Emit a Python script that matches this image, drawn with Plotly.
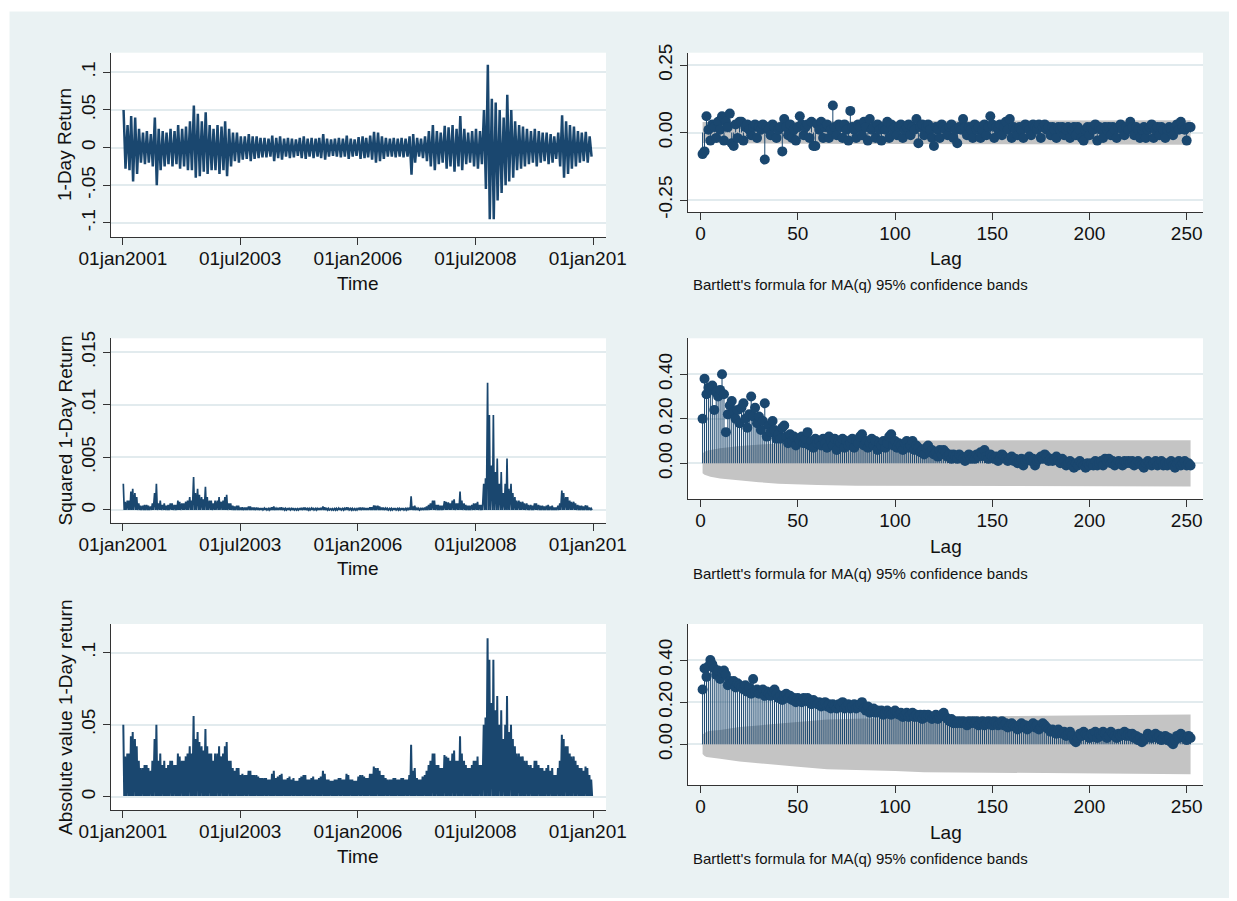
import plotly.graph_objects as go
import pandas as pd

# the page body adds an 8px margin, so the figure is laid out in screen pixels minus 8
OFF = 8
W, H = 1229, 893

# ---------------- data ----------------
# monthly envelope (max / min) of the daily 1-day return, Jan 2001 .. Dec 2010
month_start = "2001-01-01"
ret_hi = [
    0.050, 0.030, 0.042, 0.040, 0.025, 0.020, 0.022, 0.018, 0.040, 0.025, 0.022, 0.020,
    0.025, 0.022, 0.030, 0.025, 0.028, 0.035, 0.056, 0.045, 0.035, 0.047, 0.030, 0.025,
    0.030, 0.028, 0.035, 0.025, 0.020, 0.020, 0.015, 0.015, 0.018, 0.015, 0.015, 0.013,
    0.013, 0.012, 0.016, 0.013, 0.015, 0.012, 0.013, 0.012, 0.011, 0.013, 0.015, 0.012,
    0.013, 0.012, 0.013, 0.018, 0.012, 0.011, 0.012, 0.013, 0.012, 0.016, 0.012, 0.011,
    0.014, 0.015, 0.013, 0.016, 0.021, 0.020, 0.015, 0.013, 0.012, 0.013, 0.012, 0.013,
    0.012, 0.015, 0.018, 0.013, 0.012, 0.015, 0.022, 0.030, 0.022, 0.020, 0.029, 0.027,
    0.030, 0.025, 0.042, 0.025, 0.020, 0.022, 0.025, 0.022, 0.050, 0.110, 0.065, 0.060,
    0.050, 0.040, 0.070, 0.050, 0.035, 0.030, 0.028, 0.025, 0.022, 0.025, 0.022, 0.020,
    0.020, 0.018, 0.015, 0.020, 0.043, 0.035, 0.030, 0.028, 0.022, 0.020, 0.021, 0.015,
]
ret_lo = [
    -0.028, -0.030, -0.045, -0.035, -0.020, -0.022, -0.020, -0.025, -0.050, -0.030, -0.025, -0.022,
    -0.025, -0.022, -0.028, -0.025, -0.030, -0.030, -0.040, -0.038, -0.032, -0.035, -0.030, -0.030,
    -0.035, -0.030, -0.038, -0.025, -0.018, -0.020, -0.016, -0.015, -0.018, -0.015, -0.014, -0.013,
    -0.013, -0.012, -0.018, -0.014, -0.016, -0.012, -0.014, -0.013, -0.011, -0.014, -0.015, -0.012,
    -0.014, -0.012, -0.014, -0.016, -0.012, -0.011, -0.012, -0.013, -0.012, -0.015, -0.012, -0.011,
    -0.015, -0.014, -0.013, -0.016, -0.020, -0.018, -0.015, -0.012, -0.012, -0.013, -0.012, -0.013,
    -0.012, -0.036, -0.020, -0.012, -0.014, -0.018, -0.025, -0.030, -0.022, -0.020, -0.028, -0.025,
    -0.032, -0.025, -0.030, -0.022, -0.020, -0.025, -0.028, -0.022, -0.055, -0.095, -0.095, -0.070,
    -0.060, -0.050, -0.045, -0.040, -0.030, -0.028, -0.025, -0.022, -0.020, -0.025, -0.020, -0.018,
    -0.022, -0.020, -0.015, -0.025, -0.040, -0.035, -0.028, -0.025, -0.020, -0.018, -0.020, -0.012,
]
abs_min = 0.0005  # smallest |return| in each month (practically zero)

# autocorrelations, lags 1..252
acf_ret = [
    -0.08, -0.07, 0.06, 0.01, -0.03, 0.03, 0.02, -0.02, 0.04, 0.01, 0.06, -0.03, 0.04, 0.02, 0.07, -0.04, -0.05, 0.03, -0.02, 0.04,
    0.04, -0.03, 0.02, 0.03, 0.01, -0.01, 0.02, 0.03, -0.02, 0.02, 0.01, 0.03, -0.10, 0.02, 0.01, -0.01, 0.03, 0.02, -0.02, 0.01,
    0.02, -0.07, 0.05, 0.02, -0.01, 0.03, -0.02, 0.01, -0.03, 0.02, 0.06, 0.03, -0.01, 0.02, 0.03, -0.02, 0.04, -0.05, -0.05, 0.03,
    0.01, 0.04, -0.02, 0.02, 0.03, -0.02, 0.01, 0.10, 0.02, -0.01, 0.03, 0.02, -0.02, 0.03, 0.01, -0.03, 0.08, 0.02, 0.01, -0.02,
    0.03, 0.02, -0.01, 0.04, 0.02, -0.03, 0.05, 0.01, 0.02, -0.02, 0.03, 0.01, -0.03, 0.02, 0.01, 0.04, -0.02, 0.03, 0.01, 0.02,
    -0.01, 0.02, 0.03, -0.02, 0.01, 0.02, 0.03, -0.01, 0.02, 0.01, 0.05, -0.04, 0.02, 0.03, -0.01, 0.02, 0.03, 0.01, -0.02, -0.05,
    0.02, 0.01, -0.02, 0.03, 0.02, 0.01, -0.01, 0.02, 0.03, -0.02, 0.01, -0.04, 0.02, 0.01, 0.05, 0.02, -0.01, 0.02, 0.01, -0.02,
    0.03, 0.01, 0.02, -0.02, 0.01, 0.03, -0.01, 0.02, 0.06, 0.03, -0.02, 0.02, 0.01, 0.03, -0.01, 0.02, 0.04, 0.01, 0.05, -0.02,
    0.02, 0.01, -0.01, 0.02, 0.01, -0.02, 0.03, 0.02, 0.01, -0.01, 0.03, 0.02, 0.01, 0.03, -0.02, 0.02, 0.03, 0.01, 0.02, -0.01,
    0.02, 0.01, -0.02, 0.02, 0.01, 0.02, -0.01, 0.01, 0.02, -0.02, 0.01, 0.02, -0.01, 0.02, 0.01, -0.02, -0.03, 0.01, 0.02, -0.01,
    0.02, 0.01, 0.03, -0.03, 0.02, 0.01, -0.02, 0.02, 0.01, 0.02, -0.01, 0.02, 0.01, -0.02, 0.02, 0.03, 0.01, -0.01, 0.02, 0.01,
    0.04, 0.02, -0.01, 0.02, 0.01, -0.02, 0.01, 0.02, -0.02, 0.01, 0.02, 0.03, -0.02, 0.01, 0.02, -0.01, 0.02, 0.01, -0.02, 0.01,
    0.02, 0.01, -0.01, 0.02, 0.03, 0.01, 0.04, 0.02, 0.01, -0.03, 0.02, 0.02,
]
acf_sq = [
    0.20, 0.38, 0.31, 0.34, 0.33, 0.35, 0.24, 0.32, 0.30, 0.33, 0.40, 0.31, 0.14, 0.22, 0.26, 0.28, 0.23, 0.20, 0.24, 0.18,
    0.25, 0.27, 0.20, 0.16, 0.22, 0.30, 0.21, 0.25, 0.18, 0.21, 0.15, 0.19, 0.27, 0.12, 0.17, 0.14, 0.19, 0.15, 0.11, 0.13,
    0.11, 0.16, 0.17, 0.12, 0.09, 0.13, 0.10, 0.12, 0.08, 0.11, 0.10, 0.12, 0.09, 0.11, 0.14, 0.08, 0.10, 0.07, 0.11, 0.09,
    0.10, 0.08, 0.11, 0.09, 0.07, 0.12, 0.10, 0.08, 0.11, 0.06, 0.10, 0.09, 0.11, 0.07, 0.10, 0.08, 0.09, 0.11, 0.07, 0.10,
    0.09, 0.12, 0.13, 0.08, 0.10, 0.07, 0.09, 0.11, 0.08, 0.10, 0.06, 0.09, 0.08, 0.10, 0.07, 0.09, 0.12, 0.13, 0.08, 0.10,
    0.07, 0.09, 0.08, 0.06, 0.09, 0.10, 0.07, 0.08, 0.10, 0.06, 0.08, 0.07, 0.05, 0.06, 0.04, 0.07, 0.08, 0.05, 0.06, 0.04,
    0.05, 0.03, 0.06, 0.04, 0.06, 0.05, 0.03, 0.04, 0.02, 0.04, 0.03, 0.02, 0.04, 0.03, 0.02, 0.01, 0.03, 0.04, 0.02, 0.03,
    0.02, 0.04, 0.03, 0.05, 0.04, 0.06, 0.03, 0.02, 0.04, 0.03, 0.02, 0.03, 0.01, 0.02, 0.04, 0.03, 0.02, 0.01, 0.02, 0.03,
    0.01, 0.02, 0.00, 0.01, 0.02, -0.01, 0.01, 0.02, 0.03, 0.01, 0.02, -0.01, 0.01, 0.02, 0.03, 0.02, 0.04, 0.03, 0.01, 0.02,
    0.01, 0.02, 0.03, 0.01, 0.00, 0.02, 0.01, -0.01, 0.00, 0.01, -0.01, -0.02, 0.00, -0.01, 0.01, 0.00, -0.01, -0.02, 0.00, -0.01,
    0.00, -0.01, 0.01, -0.01, 0.00, 0.01, -0.01, 0.02, 0.01, 0.02, 0.00, 0.01, -0.01, 0.00, 0.01, 0.00, -0.01, 0.01, 0.00, 0.01,
    0.00, 0.01, -0.01, 0.00, 0.01, 0.00, -0.01, -0.02, 0.00, 0.01, 0.00, -0.01, 0.00, 0.01, -0.01, 0.00, 0.01, -0.01, 0.00, -0.01,
    0.00, 0.01, -0.01, -0.02, 0.00, 0.01, -0.01, 0.00, 0.01, -0.01, 0.00, -0.01,
]
acf_abs = [
    0.26, 0.36, 0.32, 0.37, 0.40, 0.38, 0.36, 0.33, 0.35, 0.31, 0.34, 0.35, 0.33, 0.28, 0.30, 0.29, 0.30, 0.27, 0.29, 0.28,
    0.27, 0.26, 0.28, 0.25, 0.27, 0.24, 0.31, 0.25, 0.26, 0.24, 0.25, 0.26, 0.23, 0.25, 0.24, 0.23, 0.25, 0.26, 0.24, 0.22,
    0.23, 0.21, 0.23, 0.24, 0.22, 0.23, 0.21, 0.22, 0.20, 0.22, 0.21, 0.20, 0.22, 0.21, 0.22, 0.20, 0.19, 0.21, 0.20, 0.19,
    0.20, 0.18, 0.19, 0.20, 0.18, 0.19, 0.17, 0.19, 0.18, 0.17, 0.19, 0.18, 0.20, 0.17, 0.18, 0.19, 0.17, 0.18, 0.19, 0.17,
    0.18, 0.19, 0.20, 0.17, 0.16, 0.18, 0.15, 0.16, 0.17, 0.15, 0.16, 0.15, 0.16, 0.14, 0.15, 0.16, 0.15, 0.14, 0.15, 0.16,
    0.15, 0.14, 0.15, 0.13, 0.14, 0.15, 0.13, 0.14, 0.15, 0.13, 0.14, 0.13, 0.14, 0.12, 0.14, 0.13, 0.14, 0.13, 0.12, 0.13,
    0.14, 0.12, 0.13, 0.14, 0.15, 0.13, 0.12, 0.11, 0.12, 0.10, 0.11, 0.10, 0.11, 0.10, 0.11, 0.10, 0.09, 0.11, 0.10, 0.11,
    0.10, 0.11, 0.09, 0.10, 0.11, 0.09, 0.10, 0.11, 0.10, 0.09, 0.11, 0.10, 0.09, 0.10, 0.11, 0.09, 0.10, 0.08, 0.09, 0.10,
    0.09, 0.08, 0.07, 0.09, 0.10, 0.08, 0.09, 0.07, 0.08, 0.09, 0.10, 0.08, 0.09, 0.07, 0.08, 0.10, 0.09, 0.08, 0.07, 0.06,
    0.07, 0.06, 0.05, 0.07, 0.06, 0.05, 0.06, 0.04, 0.05, 0.06, 0.04, 0.02, 0.01, 0.03, 0.05, 0.04, 0.06, 0.05, 0.04, 0.03,
    0.05, 0.04, 0.06, 0.03, 0.05, 0.04, 0.06, 0.05, 0.03, 0.04, 0.06, 0.05, 0.04, 0.03, 0.05, 0.04, 0.05, 0.06, 0.04, 0.05,
    0.04, 0.05, 0.03, 0.04, 0.02, 0.03, 0.01, 0.02, 0.03, 0.05, 0.04, 0.03, 0.04, 0.05, 0.03, 0.04, 0.02, 0.03, 0.04, 0.02,
    0.03, 0.01, 0.00, 0.02, 0.04, 0.03, 0.05, 0.04, 0.03, 0.02, 0.04, 0.03,
]

# Bartlett 95% band half-widths at selected lags
band_ret_lags = [1, 50, 100, 150, 200, 252]
band_ret = [0.039, 0.042, 0.043, 0.044, 0.045, 0.045]
band_sq_lags = [1, 2, 3, 5, 10, 20, 30, 40, 50, 60, 80, 120, 252]
band_sq = [0.045, 0.052, 0.056, 0.060, 0.068, 0.078, 0.085, 0.092, 0.096, 0.098, 0.101, 0.103, 0.104]
band_abs_lags = [1, 2, 3, 5, 10, 20, 30, 40, 50, 65, 100, 115, 175, 215, 252]
band_abs = [0.046, 0.055, 0.060, 0.064, 0.068, 0.082, 0.090, 0.098, 0.106, 0.118, 0.126, 0.132, 0.135, 0.140, 0.142]

time_ticks = ["2001-01-01", "2003-07-01", "2006-01-01", "2008-07-01", "2011-01-01"]
time_labels = ["01jan2001", "01jul2003", "01jan2006", "01jul2008", "01jan201\u00a0\u00a0"]
lag_ticks = [0, 50, 100, 150, 200, 250]

# ---------------- styling ----------------
NAVY = "#1a476f"
BG = "#eaf2f3"
GRID = "#e2ebee"
AX = "#333333"
BAND = "#c4c4c4"
FONT = "Liberation Sans, Arial, Helvetica, sans-serif"
FS = 19

def fx(px):
    """screen pixel x -> paper fraction"""
    return (px - OFF) / W

def fy(py):
    """screen pixel y -> paper fraction"""
    return 1 - (py - OFF) / H

months = pd.date_range(month_start, periods=len(ret_hi), freq="MS")
t2, y_ret, t4, y_abs, y_sq = [], [], [], [], []
for m, hi, lo in zip(months, ret_hi, ret_lo):
    t2 += [m + pd.Timedelta(days=5), m + pd.Timedelta(days=20)]
    y_ret += [hi, lo]
    t4 += [m + pd.Timedelta(days=d) for d in (3, 10, 17, 24)]
    vals = [abs(hi), abs_min, abs(lo), abs_min]
    y_abs += vals
    y_sq += [v * v for v in vals]

fig = go.Figure()

# time-series panels
fig.add_trace(go.Scatter(x=t2, y=y_ret, mode="lines", line=dict(color=NAVY, width=2.5),
                         xaxis="x", yaxis="y", showlegend=False, hoverinfo="skip"))
fig.add_trace(go.Scatter(x=t4, y=y_sq, mode="lines", line=dict(color=NAVY, width=1.7),
                         xaxis="x3", yaxis="y3", showlegend=False, hoverinfo="skip"))
fig.add_trace(go.Scatter(x=t4, y=y_abs, mode="lines", line=dict(color=NAVY, width=2.0),
                         xaxis="x5", yaxis="y5", showlegend=False, hoverinfo="skip"))

def add_acf(vals, blags, bvals, xa, ya):
    lags = list(range(1, len(vals) + 1))
    bx = blags + blags[::-1]
    by = bvals + [-v for v in bvals[::-1]]
    fig.add_trace(go.Scatter(x=bx, y=by, fill="toself", fillcolor=BAND, mode="lines",
                             line=dict(width=0, color=BAND), xaxis=xa, yaxis=ya,
                             showlegend=False, hoverinfo="skip"))
    sx, sy = [], []
    for l, v in zip(lags, vals):
        sx += [l, l, None]
        sy += [0, v, None]
    fig.add_trace(go.Scatter(x=sx, y=sy, mode="lines", line=dict(color=NAVY, width=1),
                             xaxis=xa, yaxis=ya, showlegend=False, hoverinfo="skip"))
    fig.add_trace(go.Scatter(x=lags, y=vals, mode="markers",
                             marker=dict(color=NAVY, size=10, line=dict(width=0)),
                             xaxis=xa, yaxis=ya, showlegend=False, hoverinfo="skip"))

add_acf(acf_ret, band_ret_lags, band_ret, "x2", "y2")
add_acf(acf_sq, band_sq_lags, band_sq, "x4", "y4")
add_acf(acf_abs, band_abs_lags, band_abs, "x6", "y6")

common_axis = dict(showline=True, linecolor=AX, linewidth=1.2, ticks="outside", ticklen=7,
                   tickwidth=1.2, tickcolor=AX, zeroline=False, automargin=False,
                   tickfont=dict(family=FONT, size=FS, color="#111111"))

LX = [fx(110.7), fx(606)]
RX = [fx(688), fx(1203)]
rows_left = [(52.7, 237), (338.3, 522.7), (624, 810)]
rows_right = [(52.7, 212), (338.3, 499.3), (624, 785)]

left_y = [
    dict(range=[-0.1186, 0.126], tickvals=[-0.1, -0.05, 0, 0.05, 0.1], ticktext=["-.1", "-.05", "0", ".05", ".1"]),
    dict(range=[-0.00121, 0.01633], tickvals=[0, 0.005, 0.01, 0.015], ticktext=["0", ".005", ".01", ".015"]),
    dict(range=[-0.0092, 0.1199], tickvals=[0, 0.05, 0.1], ticktext=["0", ".05", ".1"]),
]
right_y = [
    dict(range=[-0.2944, 0.2956], tickvals=[-0.25, 0, 0.25], ticktext=["-0.25", "0.00", "0.25"]),
    dict(range=[-0.1618, 0.5618], tickvals=[0, 0.2, 0.4], ticktext=["0.00", "0.20", "0.40"]),
    dict(range=[-0.193, 0.5708], tickvals=[0, 0.2, 0.4], ticktext=["0.00", "0.20", "0.40"]),
]

layout_axes = {}
for i in range(3):
    nl = 2 * i + 1
    nr = 2 * i + 2
    sl = "" if nl == 1 else str(nl)
    sr = str(nr)
    top, bot = rows_left[i]
    layout_axes["xaxis" + sl] = dict(common_axis, domain=LX, anchor="y" + sl, type="date",
                                     range=["2000-09-28", "2011-04-12"], ticklabelstandoff=-3,
                                     tickvals=time_ticks, ticktext=time_labels, showgrid=False)
    layout_axes["yaxis" + sl] = dict(common_axis, domain=[fy(bot), fy(top)], anchor="x" + sl,
                                     tickangle=-90, showgrid=True, gridcolor=GRID, gridwidth=1.5,
                                     **left_y[i])
    top, bot = rows_right[i]
    layout_axes["xaxis" + sr] = dict(common_axis, domain=RX, anchor="y" + sr, ticklabelstandoff=-3,
                                     range=[-6.5, 258.4], tickvals=lag_ticks, showgrid=False)
    layout_axes["yaxis" + sr] = dict(common_axis, domain=[fy(bot), fy(top)], anchor="x" + sr,
                                     tickangle=-90, showgrid=True, gridcolor=GRID, gridwidth=1.5,
                                     **right_y[i])

annotations = []
def txt(t, x, y, size=FS, angle=0, xanchor="center"):
    annotations.append(dict(text=t, x=fx(x), y=fy(y), xref="paper", yref="paper",
                            showarrow=False, textangle=angle, xanchor=xanchor, yanchor="middle",
                            font=dict(family=FONT, size=size, color="#111111")))

for yy in (283, 568, 856):
    txt("Time", 358.3, yy)
for yy in (258, 546, 832):
    txt("Lag", 945.5, yy)
for yy in (285, 573, 858):
    txt("Bartlett's formula for MA(q) 95% confidence bands", 691, yy, size=15, xanchor="left")
txt("1-Day Return", 65, 145, angle=-90)
txt("Squared 1-Day Return", 65, 430.5, angle=-90)
txt("Absolute value 1-Day return", 65, 717, angle=-90)

def white(x0, x1, y0, y1):
    return dict(type="rect", xref="paper", yref="paper", x0=x0, x1=x1, y0=y0, y1=y1,
                fillcolor="white", line=dict(width=0), layer="below")

shapes = [
    white(0, fx(9.5), 0, 1),
    white(0, 1, fy(11.5), 1),
    white(fx(1233), 1, 0, 1),
    white(0, 1, 0, fy(898)),
]

fig.update_layout(
    width=W, height=H, margin=dict(l=0, r=0, t=0, b=0, pad=0, autoexpand=False),
    paper_bgcolor=BG, plot_bgcolor="white",
    font=dict(family=FONT, size=FS, color="#111111"),
    annotations=annotations, shapes=shapes, showlegend=False,
    **layout_axes,
)

fig.write_html("out.html")
